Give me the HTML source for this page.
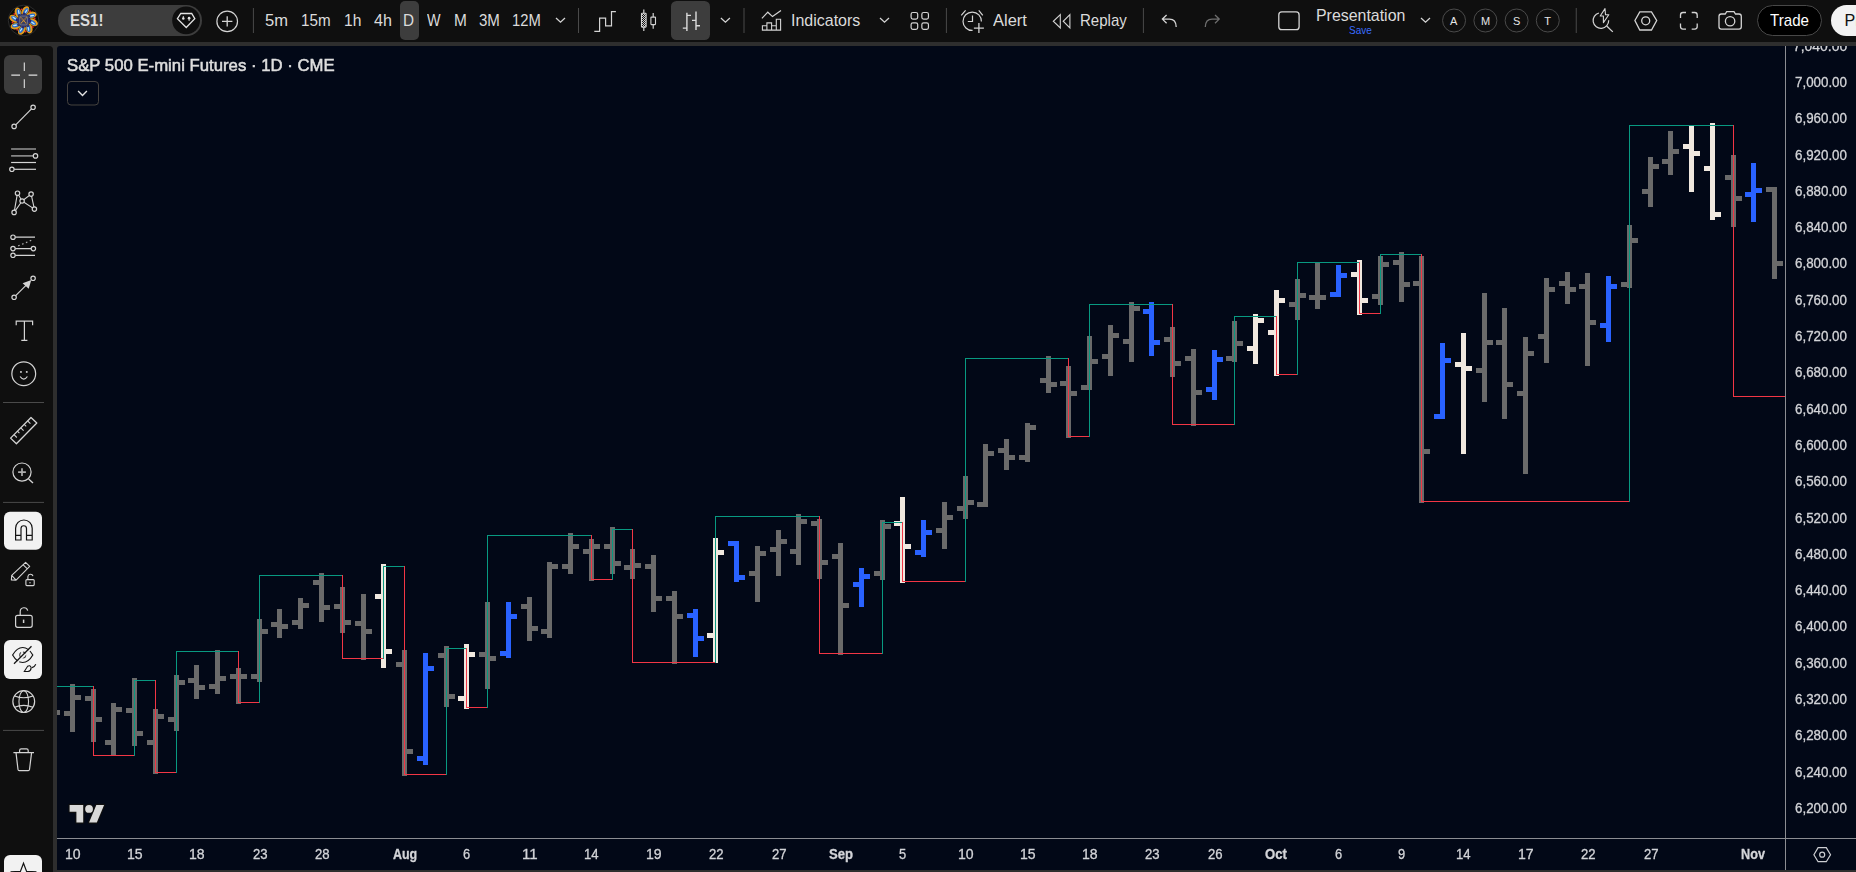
<!DOCTYPE html><html><head><meta charset="utf-8"><title>ES1! chart</title><style>
html,body{margin:0;padding:0}
body{width:1856px;height:872px;overflow:hidden;position:relative;background:#2e2e2e;font-family:"Liberation Sans",sans-serif}
#top{position:absolute;left:0;top:0;width:1856px;height:42px;background:#0f0f0f}
#left{position:absolute;left:0;top:46px;width:53px;height:826px;background:#0f0f0f;border-top-right-radius:4px}
#chart{position:absolute;left:57px;top:46px;width:1799px;height:824px;background:#020817;border-top-left-radius:3px}
svg.ov{position:absolute;left:0;top:0}
.t{position:absolute;white-space:pre;line-height:normal;margin:0;padding:0;transform-origin:0 0}
#axc{position:absolute;left:0;top:46px;width:1856px;height:824px;overflow:hidden;will-change:transform}
#axc .t{-webkit-text-stroke:0.3px #d3d4d8}
.tt{-webkit-text-stroke:0.55px #dedede !important}
</style></head><body>
<div id="top"></div><div id="left"></div><div id="chart"></div>
<svg class="ov" width="1856" height="872" viewBox="0 0 1856 872" shape-rendering="crispEdges"><rect x="57" y="710" width="3" height="5" fill="#6a6a6a"/><rect x="70" y="684" width="5" height="48" fill="#6a6a6a"/><rect x="64" y="711" width="6" height="5" fill="#6a6a6a"/><rect x="75" y="695" width="6" height="5" fill="#6a6a6a"/><rect x="91" y="689" width="5" height="53" fill="#6a6a6a"/><rect x="85" y="696" width="6" height="5" fill="#6a6a6a"/><rect x="96" y="717" width="6" height="5" fill="#6a6a6a"/><rect x="111" y="703" width="5" height="53" fill="#6a6a6a"/><rect x="105" y="740" width="6" height="5" fill="#6a6a6a"/><rect x="116" y="707" width="6" height="5" fill="#6a6a6a"/><rect x="132" y="678" width="5" height="68" fill="#6a6a6a"/><rect x="126" y="708" width="6" height="5" fill="#6a6a6a"/><rect x="137" y="731" width="6" height="5" fill="#6a6a6a"/><rect x="153" y="709" width="5" height="65" fill="#6a6a6a"/><rect x="147" y="740" width="6" height="5" fill="#6a6a6a"/><rect x="158" y="714" width="6" height="5" fill="#6a6a6a"/><rect x="174" y="675" width="5" height="56" fill="#6a6a6a"/><rect x="168" y="717" width="6" height="5" fill="#6a6a6a"/><rect x="179" y="680" width="6" height="5" fill="#6a6a6a"/><rect x="194" y="665" width="5" height="34" fill="#6a6a6a"/><rect x="188" y="678" width="6" height="5" fill="#6a6a6a"/><rect x="199" y="685" width="6" height="5" fill="#6a6a6a"/><rect x="215" y="650" width="5" height="44" fill="#6a6a6a"/><rect x="209" y="684" width="6" height="5" fill="#6a6a6a"/><rect x="220" y="676" width="6" height="5" fill="#6a6a6a"/><rect x="236" y="668" width="5" height="36" fill="#6a6a6a"/><rect x="230" y="674" width="6" height="5" fill="#6a6a6a"/><rect x="241" y="674" width="6" height="5" fill="#6a6a6a"/><rect x="257" y="619" width="5" height="63" fill="#6a6a6a"/><rect x="251" y="674" width="6" height="5" fill="#6a6a6a"/><rect x="262" y="629" width="6" height="5" fill="#6a6a6a"/><rect x="277" y="609" width="5" height="29" fill="#6a6a6a"/><rect x="271" y="622" width="6" height="5" fill="#6a6a6a"/><rect x="282" y="624" width="6" height="5" fill="#6a6a6a"/><rect x="298" y="598" width="5" height="31" fill="#6a6a6a"/><rect x="292" y="620" width="6" height="5" fill="#6a6a6a"/><rect x="303" y="603" width="6" height="5" fill="#6a6a6a"/><rect x="319" y="573" width="5" height="49" fill="#6a6a6a"/><rect x="313" y="580" width="6" height="5" fill="#6a6a6a"/><rect x="324" y="605" width="6" height="5" fill="#6a6a6a"/><rect x="340" y="587" width="5" height="46" fill="#6a6a6a"/><rect x="334" y="604" width="6" height="5" fill="#6a6a6a"/><rect x="345" y="620" width="6" height="5" fill="#6a6a6a"/><rect x="361" y="594" width="5" height="66" fill="#6a6a6a"/><rect x="355" y="621" width="6" height="5" fill="#6a6a6a"/><rect x="366" y="629" width="6" height="5" fill="#6a6a6a"/><rect x="381" y="564" width="5" height="104" fill="#f0e8df"/><rect x="375" y="594" width="6" height="5" fill="#f0e8df"/><rect x="386" y="649" width="6" height="5" fill="#f0e8df"/><rect x="402" y="650" width="5" height="126" fill="#6a6a6a"/><rect x="396" y="662" width="6" height="5" fill="#6a6a6a"/><rect x="407" y="749" width="6" height="5" fill="#6a6a6a"/><rect x="423" y="653" width="5" height="112" fill="#2962ff"/><rect x="417" y="756" width="6" height="5" fill="#2962ff"/><rect x="428" y="666" width="6" height="5" fill="#2962ff"/><rect x="444" y="646" width="5" height="61" fill="#6a6a6a"/><rect x="438" y="653" width="6" height="5" fill="#6a6a6a"/><rect x="449" y="694" width="6" height="5" fill="#6a6a6a"/><rect x="464" y="644" width="5" height="65" fill="#f0e8df"/><rect x="458" y="696" width="6" height="5" fill="#f0e8df"/><rect x="469" y="652" width="6" height="5" fill="#f0e8df"/><rect x="485" y="602" width="5" height="87" fill="#6a6a6a"/><rect x="479" y="652" width="6" height="5" fill="#6a6a6a"/><rect x="490" y="656" width="6" height="5" fill="#6a6a6a"/><rect x="506" y="602" width="5" height="56" fill="#2962ff"/><rect x="500" y="651" width="6" height="5" fill="#2962ff"/><rect x="511" y="614" width="6" height="5" fill="#2962ff"/><rect x="527" y="597" width="5" height="44" fill="#6a6a6a"/><rect x="521" y="604" width="6" height="5" fill="#6a6a6a"/><rect x="532" y="626" width="6" height="5" fill="#6a6a6a"/><rect x="547" y="562" width="5" height="76" fill="#6a6a6a"/><rect x="541" y="629" width="6" height="5" fill="#6a6a6a"/><rect x="552" y="564" width="6" height="5" fill="#6a6a6a"/><rect x="568" y="533" width="5" height="41" fill="#6a6a6a"/><rect x="562" y="564" width="6" height="5" fill="#6a6a6a"/><rect x="573" y="544" width="6" height="5" fill="#6a6a6a"/><rect x="589" y="539" width="5" height="42" fill="#6a6a6a"/><rect x="583" y="549" width="6" height="5" fill="#6a6a6a"/><rect x="594" y="544" width="6" height="5" fill="#6a6a6a"/><rect x="610" y="527" width="5" height="47" fill="#6a6a6a"/><rect x="604" y="544" width="6" height="5" fill="#6a6a6a"/><rect x="615" y="561" width="6" height="5" fill="#6a6a6a"/><rect x="630" y="549" width="5" height="30" fill="#6a6a6a"/><rect x="624" y="565" width="6" height="5" fill="#6a6a6a"/><rect x="635" y="563" width="6" height="5" fill="#6a6a6a"/><rect x="651" y="555" width="5" height="57" fill="#6a6a6a"/><rect x="645" y="564" width="6" height="5" fill="#6a6a6a"/><rect x="656" y="596" width="6" height="5" fill="#6a6a6a"/><rect x="672" y="591" width="5" height="73" fill="#6a6a6a"/><rect x="666" y="596" width="6" height="5" fill="#6a6a6a"/><rect x="677" y="614" width="6" height="5" fill="#6a6a6a"/><rect x="693" y="609" width="5" height="48" fill="#2962ff"/><rect x="687" y="613" width="6" height="5" fill="#2962ff"/><rect x="698" y="636" width="6" height="5" fill="#2962ff"/><rect x="713" y="538" width="5" height="125" fill="#f0e8df"/><rect x="707" y="633" width="6" height="5" fill="#f0e8df"/><rect x="718" y="550" width="6" height="5" fill="#f0e8df"/><rect x="734" y="541" width="5" height="41" fill="#2962ff"/><rect x="728" y="541" width="6" height="5" fill="#2962ff"/><rect x="739" y="575" width="6" height="5" fill="#2962ff"/><rect x="755" y="546" width="5" height="56" fill="#6a6a6a"/><rect x="749" y="571" width="6" height="5" fill="#6a6a6a"/><rect x="760" y="551" width="6" height="5" fill="#6a6a6a"/><rect x="776" y="530" width="5" height="46" fill="#6a6a6a"/><rect x="770" y="547" width="6" height="5" fill="#6a6a6a"/><rect x="781" y="539" width="6" height="5" fill="#6a6a6a"/><rect x="796" y="514" width="5" height="51" fill="#6a6a6a"/><rect x="790" y="549" width="6" height="5" fill="#6a6a6a"/><rect x="801" y="519" width="6" height="5" fill="#6a6a6a"/><rect x="817" y="519" width="5" height="60" fill="#6a6a6a"/><rect x="811" y="521" width="6" height="5" fill="#6a6a6a"/><rect x="822" y="560" width="6" height="5" fill="#6a6a6a"/><rect x="838" y="543" width="5" height="112" fill="#6a6a6a"/><rect x="832" y="554" width="6" height="5" fill="#6a6a6a"/><rect x="843" y="603" width="6" height="5" fill="#6a6a6a"/><rect x="859" y="568" width="5" height="39" fill="#2962ff"/><rect x="853" y="582" width="6" height="5" fill="#2962ff"/><rect x="864" y="574" width="6" height="5" fill="#2962ff"/><rect x="880" y="520" width="5" height="60" fill="#6a6a6a"/><rect x="874" y="571" width="6" height="5" fill="#6a6a6a"/><rect x="885" y="524" width="6" height="5" fill="#6a6a6a"/><rect x="900" y="497" width="5" height="86" fill="#f0e8df"/><rect x="894" y="521" width="6" height="5" fill="#f0e8df"/><rect x="905" y="544" width="6" height="5" fill="#f0e8df"/><rect x="921" y="520" width="5" height="37" fill="#2962ff"/><rect x="915" y="550" width="6" height="5" fill="#2962ff"/><rect x="926" y="530" width="6" height="5" fill="#2962ff"/><rect x="942" y="502" width="5" height="47" fill="#6a6a6a"/><rect x="936" y="528" width="6" height="5" fill="#6a6a6a"/><rect x="947" y="515" width="6" height="5" fill="#6a6a6a"/><rect x="963" y="476" width="5" height="43" fill="#6a6a6a"/><rect x="957" y="506" width="6" height="5" fill="#6a6a6a"/><rect x="968" y="500" width="6" height="5" fill="#6a6a6a"/><rect x="983" y="444" width="5" height="63" fill="#6a6a6a"/><rect x="977" y="502" width="6" height="5" fill="#6a6a6a"/><rect x="988" y="451" width="6" height="5" fill="#6a6a6a"/><rect x="1004" y="439" width="5" height="31" fill="#6a6a6a"/><rect x="998" y="448" width="6" height="5" fill="#6a6a6a"/><rect x="1009" y="455" width="6" height="5" fill="#6a6a6a"/><rect x="1025" y="423" width="5" height="39" fill="#6a6a6a"/><rect x="1019" y="455" width="6" height="5" fill="#6a6a6a"/><rect x="1030" y="425" width="6" height="5" fill="#6a6a6a"/><rect x="1046" y="356" width="5" height="37" fill="#6a6a6a"/><rect x="1040" y="378" width="6" height="5" fill="#6a6a6a"/><rect x="1051" y="382" width="6" height="5" fill="#6a6a6a"/><rect x="1066" y="366" width="5" height="72" fill="#6a6a6a"/><rect x="1060" y="381" width="6" height="5" fill="#6a6a6a"/><rect x="1071" y="391" width="6" height="5" fill="#6a6a6a"/><rect x="1087" y="336" width="5" height="54" fill="#6a6a6a"/><rect x="1081" y="385" width="6" height="5" fill="#6a6a6a"/><rect x="1092" y="359" width="6" height="5" fill="#6a6a6a"/><rect x="1108" y="325" width="5" height="51" fill="#6a6a6a"/><rect x="1102" y="354" width="6" height="5" fill="#6a6a6a"/><rect x="1113" y="333" width="6" height="5" fill="#6a6a6a"/><rect x="1129" y="302" width="5" height="60" fill="#6a6a6a"/><rect x="1123" y="339" width="6" height="5" fill="#6a6a6a"/><rect x="1134" y="306" width="6" height="5" fill="#6a6a6a"/><rect x="1149" y="302" width="5" height="54" fill="#2962ff"/><rect x="1143" y="309" width="6" height="5" fill="#2962ff"/><rect x="1154" y="340" width="6" height="5" fill="#2962ff"/><rect x="1170" y="327" width="5" height="50" fill="#6a6a6a"/><rect x="1164" y="337" width="6" height="5" fill="#6a6a6a"/><rect x="1175" y="361" width="6" height="5" fill="#6a6a6a"/><rect x="1191" y="349" width="5" height="77" fill="#6a6a6a"/><rect x="1185" y="356" width="6" height="5" fill="#6a6a6a"/><rect x="1196" y="390" width="6" height="5" fill="#6a6a6a"/><rect x="1212" y="350" width="5" height="50" fill="#2962ff"/><rect x="1206" y="387" width="6" height="5" fill="#2962ff"/><rect x="1217" y="357" width="6" height="5" fill="#2962ff"/><rect x="1232" y="321" width="5" height="41" fill="#6a6a6a"/><rect x="1226" y="356" width="6" height="5" fill="#6a6a6a"/><rect x="1237" y="341" width="6" height="5" fill="#6a6a6a"/><rect x="1253" y="314" width="5" height="50" fill="#f0e8df"/><rect x="1247" y="346" width="6" height="5" fill="#f0e8df"/><rect x="1258" y="318" width="6" height="5" fill="#f0e8df"/><rect x="1274" y="290" width="5" height="86" fill="#f0e8df"/><rect x="1268" y="330" width="6" height="5" fill="#f0e8df"/><rect x="1279" y="298" width="6" height="5" fill="#f0e8df"/><rect x="1295" y="279" width="5" height="41" fill="#6a6a6a"/><rect x="1289" y="302" width="6" height="5" fill="#6a6a6a"/><rect x="1300" y="293" width="6" height="5" fill="#6a6a6a"/><rect x="1315" y="262" width="5" height="47" fill="#6a6a6a"/><rect x="1309" y="295" width="6" height="5" fill="#6a6a6a"/><rect x="1320" y="295" width="6" height="5" fill="#6a6a6a"/><rect x="1336" y="265" width="5" height="32" fill="#2962ff"/><rect x="1330" y="292" width="6" height="5" fill="#2962ff"/><rect x="1341" y="273" width="6" height="5" fill="#2962ff"/><rect x="1357" y="260" width="5" height="55" fill="#f0e8df"/><rect x="1351" y="272" width="6" height="5" fill="#f0e8df"/><rect x="1362" y="298" width="6" height="5" fill="#f0e8df"/><rect x="1378" y="256" width="5" height="49" fill="#6a6a6a"/><rect x="1372" y="294" width="6" height="5" fill="#6a6a6a"/><rect x="1383" y="262" width="6" height="5" fill="#6a6a6a"/><rect x="1399" y="252" width="5" height="50" fill="#6a6a6a"/><rect x="1393" y="260" width="6" height="5" fill="#6a6a6a"/><rect x="1404" y="282" width="6" height="5" fill="#6a6a6a"/><rect x="1419" y="256" width="5" height="247" fill="#6a6a6a"/><rect x="1413" y="281" width="6" height="5" fill="#6a6a6a"/><rect x="1424" y="449" width="6" height="5" fill="#6a6a6a"/><rect x="1440" y="343" width="5" height="76" fill="#2962ff"/><rect x="1434" y="414" width="6" height="5" fill="#2962ff"/><rect x="1445" y="358" width="6" height="5" fill="#2962ff"/><rect x="1461" y="333" width="5" height="121" fill="#f0e8df"/><rect x="1455" y="362" width="6" height="5" fill="#f0e8df"/><rect x="1466" y="366" width="6" height="5" fill="#f0e8df"/><rect x="1482" y="293" width="5" height="109" fill="#6a6a6a"/><rect x="1476" y="368" width="6" height="5" fill="#6a6a6a"/><rect x="1487" y="340" width="6" height="5" fill="#6a6a6a"/><rect x="1502" y="308" width="5" height="111" fill="#6a6a6a"/><rect x="1496" y="340" width="6" height="5" fill="#6a6a6a"/><rect x="1507" y="382" width="6" height="5" fill="#6a6a6a"/><rect x="1523" y="337" width="5" height="137" fill="#6a6a6a"/><rect x="1517" y="391" width="6" height="5" fill="#6a6a6a"/><rect x="1528" y="351" width="6" height="5" fill="#6a6a6a"/><rect x="1544" y="278" width="5" height="85" fill="#6a6a6a"/><rect x="1538" y="334" width="6" height="5" fill="#6a6a6a"/><rect x="1549" y="287" width="6" height="5" fill="#6a6a6a"/><rect x="1565" y="272" width="5" height="32" fill="#6a6a6a"/><rect x="1559" y="281" width="6" height="5" fill="#6a6a6a"/><rect x="1570" y="287" width="6" height="5" fill="#6a6a6a"/><rect x="1585" y="273" width="5" height="93" fill="#6a6a6a"/><rect x="1579" y="284" width="6" height="5" fill="#6a6a6a"/><rect x="1590" y="320" width="6" height="5" fill="#6a6a6a"/><rect x="1606" y="276" width="5" height="66" fill="#2962ff"/><rect x="1600" y="323" width="6" height="5" fill="#2962ff"/><rect x="1611" y="284" width="6" height="5" fill="#2962ff"/><rect x="1627" y="225" width="5" height="63" fill="#6a6a6a"/><rect x="1621" y="282" width="6" height="5" fill="#6a6a6a"/><rect x="1632" y="238" width="6" height="5" fill="#6a6a6a"/><rect x="1648" y="157" width="5" height="50" fill="#6a6a6a"/><rect x="1642" y="189" width="6" height="5" fill="#6a6a6a"/><rect x="1653" y="164" width="6" height="5" fill="#6a6a6a"/><rect x="1668" y="131" width="5" height="44" fill="#6a6a6a"/><rect x="1662" y="159" width="6" height="5" fill="#6a6a6a"/><rect x="1673" y="149" width="6" height="5" fill="#6a6a6a"/><rect x="1689" y="125" width="5" height="67" fill="#f0e8df"/><rect x="1683" y="144" width="6" height="5" fill="#f0e8df"/><rect x="1694" y="151" width="6" height="5" fill="#f0e8df"/><rect x="1710" y="123" width="5" height="97" fill="#f0e8df"/><rect x="1704" y="166" width="6" height="5" fill="#f0e8df"/><rect x="1715" y="212" width="6" height="5" fill="#f0e8df"/><rect x="1731" y="155" width="5" height="72" fill="#6a6a6a"/><rect x="1725" y="175" width="6" height="5" fill="#6a6a6a"/><rect x="1736" y="196" width="6" height="5" fill="#6a6a6a"/><rect x="1751" y="163" width="5" height="59" fill="#2962ff"/><rect x="1745" y="192" width="6" height="5" fill="#2962ff"/><rect x="1756" y="188" width="6" height="5" fill="#2962ff"/><rect x="1772" y="187" width="5" height="92" fill="#6a6a6a"/><rect x="1766" y="187" width="6" height="5" fill="#6a6a6a"/><rect x="1777" y="261" width="6" height="5" fill="#6a6a6a"/><rect x="57" y="686" width="36" height="1" fill="#089981"/><rect x="93" y="686" width="1" height="70" fill="#f23645"/><rect x="93" y="755" width="41" height="1" fill="#f23645"/><rect x="134" y="680" width="1" height="76" fill="#089981"/><rect x="134" y="680" width="21" height="1" fill="#089981"/><rect x="155" y="680" width="1" height="93" fill="#f23645"/><rect x="155" y="772" width="21" height="1" fill="#f23645"/><rect x="176" y="651" width="1" height="122" fill="#089981"/><rect x="176" y="651" width="62" height="1" fill="#089981"/><rect x="238" y="651" width="1" height="52" fill="#f23645"/><rect x="238" y="702" width="21" height="1" fill="#f23645"/><rect x="259" y="575" width="1" height="128" fill="#089981"/><rect x="259" y="575" width="83" height="1" fill="#089981"/><rect x="342" y="575" width="1" height="84" fill="#f23645"/><rect x="342" y="658" width="41" height="1" fill="#f23645"/><rect x="383" y="566" width="1" height="93" fill="#089981"/><rect x="383" y="566" width="21" height="1" fill="#089981"/><rect x="404" y="566" width="1" height="209" fill="#f23645"/><rect x="404" y="774" width="42" height="1" fill="#f23645"/><rect x="446" y="648" width="1" height="127" fill="#089981"/><rect x="446" y="648" width="20" height="1" fill="#089981"/><rect x="466" y="648" width="1" height="60" fill="#f23645"/><rect x="466" y="707" width="21" height="1" fill="#f23645"/><rect x="487" y="535" width="1" height="173" fill="#089981"/><rect x="487" y="535" width="104" height="1" fill="#089981"/><rect x="591" y="535" width="1" height="45" fill="#f23645"/><rect x="591" y="579" width="21" height="1" fill="#f23645"/><rect x="612" y="529" width="1" height="51" fill="#089981"/><rect x="612" y="529" width="20" height="1" fill="#089981"/><rect x="632" y="529" width="1" height="134" fill="#f23645"/><rect x="632" y="662" width="83" height="1" fill="#f23645"/><rect x="715" y="516" width="1" height="147" fill="#089981"/><rect x="715" y="516" width="104" height="1" fill="#089981"/><rect x="819" y="516" width="1" height="138" fill="#f23645"/><rect x="819" y="653" width="63" height="1" fill="#f23645"/><rect x="882" y="522" width="1" height="132" fill="#089981"/><rect x="882" y="522" width="20" height="1" fill="#089981"/><rect x="902" y="522" width="1" height="60" fill="#f23645"/><rect x="902" y="581" width="63" height="1" fill="#f23645"/><rect x="965" y="358" width="1" height="224" fill="#089981"/><rect x="965" y="358" width="103" height="1" fill="#089981"/><rect x="1068" y="358" width="1" height="79" fill="#f23645"/><rect x="1068" y="436" width="21" height="1" fill="#f23645"/><rect x="1089" y="304" width="1" height="133" fill="#089981"/><rect x="1089" y="304" width="83" height="1" fill="#089981"/><rect x="1172" y="304" width="1" height="121" fill="#f23645"/><rect x="1172" y="424" width="62" height="1" fill="#f23645"/><rect x="1234" y="316" width="1" height="109" fill="#089981"/><rect x="1234" y="316" width="42" height="1" fill="#089981"/><rect x="1276" y="316" width="1" height="59" fill="#f23645"/><rect x="1276" y="374" width="21" height="1" fill="#f23645"/><rect x="1297" y="262" width="1" height="113" fill="#089981"/><rect x="1297" y="262" width="62" height="1" fill="#089981"/><rect x="1359" y="262" width="1" height="52" fill="#f23645"/><rect x="1359" y="313" width="21" height="1" fill="#f23645"/><rect x="1380" y="254" width="1" height="60" fill="#089981"/><rect x="1380" y="254" width="41" height="1" fill="#089981"/><rect x="1421" y="254" width="1" height="248" fill="#f23645"/><rect x="1421" y="501" width="208" height="1" fill="#f23645"/><rect x="1629" y="125" width="1" height="377" fill="#089981"/><rect x="1629" y="125" width="104" height="1" fill="#089981"/><rect x="1733" y="125" width="1" height="272" fill="#f23645"/><rect x="1733" y="396" width="52" height="1" fill="#f23645"/><rect x="57" y="838" width="1799" height="1" fill="#8c8d92"/><rect x="1785" y="46" width="1" height="824" fill="#8c8d92"/></svg>
<svg class="ov" width="1856" height="872" viewBox="0 0 1856 872" fill="none" stroke-linecap="butt"><defs><clipPath id="av"><circle cx="23.6" cy="20.5" r="14.9"/></clipPath></defs><circle cx="23.6" cy="20.5" r="15.3" fill="#0a0a0a" stroke="#303030" stroke-width="0.9"/><g clip-path="url(#av)"><g transform="rotate(10 23.6 20.5)"><ellipse cx="23.6" cy="10.7" rx="3.3" ry="5.1" fill="#e39a1c" transform="rotate(24 23.6 10.7)"/><ellipse cx="24.1" cy="11.2" rx="1.9" ry="3.7" fill="#256fd0" transform="rotate(24 24.1 11.2)"/><ellipse cx="24.400000000000002" cy="11.0" rx="0.7" ry="2.5" fill="#bfe3f8" transform="rotate(24 24.400000000000002 11.0)"/><circle cx="23.0" cy="14.1" r="1.5" fill="#27296c"/><circle cx="19.700000000000003" cy="9.9" r="0.9" fill="#e8232b"/></g><g transform="rotate(55 23.6 20.5)"><ellipse cx="23.6" cy="10.7" rx="3.3" ry="5.1" fill="#e39a1c" transform="rotate(24 23.6 10.7)"/><ellipse cx="24.1" cy="11.2" rx="1.9" ry="3.7" fill="#256fd0" transform="rotate(24 24.1 11.2)"/><ellipse cx="24.400000000000002" cy="11.0" rx="0.7" ry="2.5" fill="#bfe3f8" transform="rotate(24 24.400000000000002 11.0)"/><circle cx="23.0" cy="14.1" r="1.5" fill="#27296c"/><circle cx="19.700000000000003" cy="9.9" r="0.9" fill="#e8232b"/></g><g transform="rotate(100 23.6 20.5)"><ellipse cx="23.6" cy="10.7" rx="3.3" ry="5.1" fill="#e39a1c" transform="rotate(24 23.6 10.7)"/><ellipse cx="24.1" cy="11.2" rx="1.9" ry="3.7" fill="#256fd0" transform="rotate(24 24.1 11.2)"/><ellipse cx="24.400000000000002" cy="11.0" rx="0.7" ry="2.5" fill="#bfe3f8" transform="rotate(24 24.400000000000002 11.0)"/><circle cx="23.0" cy="14.1" r="1.5" fill="#27296c"/><circle cx="19.700000000000003" cy="9.9" r="0.9" fill="#e8232b"/></g><g transform="rotate(145 23.6 20.5)"><ellipse cx="23.6" cy="10.7" rx="3.3" ry="5.1" fill="#e39a1c" transform="rotate(24 23.6 10.7)"/><ellipse cx="24.1" cy="11.2" rx="1.9" ry="3.7" fill="#256fd0" transform="rotate(24 24.1 11.2)"/><ellipse cx="24.400000000000002" cy="11.0" rx="0.7" ry="2.5" fill="#bfe3f8" transform="rotate(24 24.400000000000002 11.0)"/><circle cx="23.0" cy="14.1" r="1.5" fill="#27296c"/><circle cx="19.700000000000003" cy="9.9" r="0.9" fill="#e8232b"/></g><g transform="rotate(190 23.6 20.5)"><ellipse cx="23.6" cy="10.7" rx="3.3" ry="5.1" fill="#e39a1c" transform="rotate(24 23.6 10.7)"/><ellipse cx="24.1" cy="11.2" rx="1.9" ry="3.7" fill="#256fd0" transform="rotate(24 24.1 11.2)"/><ellipse cx="24.400000000000002" cy="11.0" rx="0.7" ry="2.5" fill="#bfe3f8" transform="rotate(24 24.400000000000002 11.0)"/><circle cx="23.0" cy="14.1" r="1.5" fill="#27296c"/><circle cx="19.700000000000003" cy="9.9" r="0.9" fill="#e8232b"/></g><g transform="rotate(235 23.6 20.5)"><ellipse cx="23.6" cy="10.7" rx="3.3" ry="5.1" fill="#e39a1c" transform="rotate(24 23.6 10.7)"/><ellipse cx="24.1" cy="11.2" rx="1.9" ry="3.7" fill="#256fd0" transform="rotate(24 24.1 11.2)"/><ellipse cx="24.400000000000002" cy="11.0" rx="0.7" ry="2.5" fill="#bfe3f8" transform="rotate(24 24.400000000000002 11.0)"/><circle cx="23.0" cy="14.1" r="1.5" fill="#27296c"/><circle cx="19.700000000000003" cy="9.9" r="0.9" fill="#e8232b"/></g><g transform="rotate(280 23.6 20.5)"><ellipse cx="23.6" cy="10.7" rx="3.3" ry="5.1" fill="#e39a1c" transform="rotate(24 23.6 10.7)"/><ellipse cx="24.1" cy="11.2" rx="1.9" ry="3.7" fill="#256fd0" transform="rotate(24 24.1 11.2)"/><ellipse cx="24.400000000000002" cy="11.0" rx="0.7" ry="2.5" fill="#bfe3f8" transform="rotate(24 24.400000000000002 11.0)"/><circle cx="23.0" cy="14.1" r="1.5" fill="#27296c"/><circle cx="19.700000000000003" cy="9.9" r="0.9" fill="#e8232b"/></g><g transform="rotate(325 23.6 20.5)"><ellipse cx="23.6" cy="10.7" rx="3.3" ry="5.1" fill="#e39a1c" transform="rotate(24 23.6 10.7)"/><ellipse cx="24.1" cy="11.2" rx="1.9" ry="3.7" fill="#256fd0" transform="rotate(24 24.1 11.2)"/><ellipse cx="24.400000000000002" cy="11.0" rx="0.7" ry="2.5" fill="#bfe3f8" transform="rotate(24 24.400000000000002 11.0)"/><circle cx="23.0" cy="14.1" r="1.5" fill="#27296c"/><circle cx="19.700000000000003" cy="9.9" r="0.9" fill="#e8232b"/></g><rect x="18.0" y="14.5" width="11.2" height="12" rx="3.4" fill="#3b3f63"/><path d="M20.400000000000002,15.3 Q23.6,13.1 26.8,15.3 Z M20.400000000000002,25.7 Q23.6,27.9 26.8,25.7 Z" fill="#2a2c78"/><rect x="17.0" y="18.3" width="2.4" height="4.4" rx="1" fill="#2a2c78"/><rect x="27.8" y="18.3" width="2.4" height="4.4" rx="1" fill="#2a2c78"/><rect x="19.700000000000003" y="16.1" width="7.8" height="8.8" rx="1.6" fill="none" stroke="#8b8d9c" stroke-width="0.6"/><path d="M20.6,17.3 L26.6,23.7 M26.6,17.3 L20.6,23.7" stroke="#e09a2a" stroke-width="1.1" stroke-dasharray="1.1 0.6"/></g><rect x="58" y="5" width="144" height="31" rx="15.5" fill="#3d3d3d" stroke="none" stroke-width="1.2" /><circle cx="186.1" cy="20.4" r="13.9" fill="#0f0f0f"/><path d="M180.8,13.5 H191.7 L194.8,18.75 L186.25,27.5 L177.4,18.75 Z" stroke="#e4e4e4" stroke-width="1.3" fill="none" /><circle cx="183.3" cy="18.6" r="1.25" fill="#e4e4e4"/><circle cx="189.1" cy="18.2" r="1.35" fill="#e4e4e4"/><path d="M183.3,16 V18 M189.1,19 V21" stroke="#e4e4e4" stroke-width="0.9" fill="none" /><circle cx="227.2" cy="21.4" r="10.3" stroke="#d4d4d4" stroke-width="1.2" fill="none" /><path d="M222,21.4 H232.4 M227.2,16.2 V26.6" stroke="#d4d4d4" stroke-width="1.3" fill="none" /><rect x="252.9" y="8" width="1" height="25" fill="#4a4a4a"/><rect x="578.0" y="8" width="1" height="25" fill="#4a4a4a"/><rect x="743.5" y="8" width="1" height="25" fill="#4a4a4a"/><rect x="945.9" y="8" width="1" height="25" fill="#4a4a4a"/><rect x="1142.9" y="8" width="1" height="25" fill="#4a4a4a"/><rect x="1575.75" y="8" width="1" height="25" fill="#4a4a4a"/><rect x="400" y="1" width="19" height="39" rx="5" fill="#3d3d3d" stroke="none" stroke-width="1.2" /><path d="M556.0,18.05 L560.5,22.150000000000002 L565.0,18.05" stroke="#d4d4d4" stroke-width="1.3" fill="none" /><path d="M720.9,18.05 L725.4,22.150000000000002 L729.9,18.05" stroke="#d4d4d4" stroke-width="1.3" fill="none" /><path d="M880.0,18.05 L884.5,22.150000000000002 L889.0,18.05" stroke="#d4d4d4" stroke-width="1.3" fill="none" /><path d="M1421.0,18.05 L1425.5,22.150000000000002 L1430.0,18.05" stroke="#d4d4d4" stroke-width="1.3" fill="none" /><path d="M594.3,31.4 H599.6 V18.1 H605.6 V25.9 H611.5 V11.6 H615.9" stroke="#d4d4d4" stroke-width="1.2" fill="none" /><defs><pattern id="ht" width="2" height="2" patternUnits="userSpaceOnUse"><rect width="1" height="1" fill="#cfcfcf"/><rect x="1" y="1" width="1" height="1" fill="#cfcfcf"/></pattern></defs><rect x="641.5" y="13.3" width="4.6" height="13.8" rx="0.5" fill="url(#ht)" stroke="#d4d4d4" stroke-width="1.1" /><path d="M643.8,9.4 V13.3 M643.8,27.1 V31" stroke="#d4d4d4" stroke-width="1.2" fill="none" /><rect x="650.9" y="17.1" width="4.6" height="7.5" rx="0.5" fill="none" stroke="#d4d4d4" stroke-width="1.1" /><path d="M653.2,13 V17.1 M653.2,24.6 V28.75" stroke="#d4d4d4" stroke-width="1.2" fill="none" /><rect x="671" y="1" width="39" height="39" rx="5.5" fill="#3d3d3d" stroke="none" stroke-width="1.2" /><path d="M686.9,12.8 V30.9 M687.5,15.4 H691 M682.8,28.1 H686.3 M696,11.6 V30 M692,20.4 H695.4 M696.6,25.8 H700" stroke="#dcdcdc" stroke-width="1.4" fill="none" /><path d="M761.9,18.4 L767.8,12.2 L772.5,16.6 L781,10.5" stroke="#d4d4d4" stroke-width="1.2" fill="none" /><path d="M762.4,30.1 V25.8 H766.9 V22.9 H771.6 V25.8 H776.3 V19.2 H780.6 V30.1 Z M766.9,25.8 V30.1 M771.6,25.8 V30.1 M776.3,25.8 V30.1" stroke="#d4d4d4" stroke-width="1.1" fill="none" /><rect x="911.1" y="12.5" width="6.6" height="6.6" rx="1.8" fill="none" stroke="#d4d4d4" stroke-width="1.2" /><rect x="921.85" y="12.5" width="6.6" height="6.6" rx="1.8" fill="none" stroke="#d4d4d4" stroke-width="1.2" /><rect x="911.1" y="22.8" width="6.6" height="6.6" rx="1.8" fill="none" stroke="#d4d4d4" stroke-width="1.2" /><rect x="921.85" y="22.8" width="6.6" height="6.6" rx="1.8" fill="none" stroke="#d4d4d4" stroke-width="1.2" /><path d="M981.4,21.6 A9.2,9.2 0 1 0 972.6,30.45" stroke="#d4d4d4" stroke-width="1.2" fill="none" /><path d="M973.9,28.1 H983.9 M978.9,23.1 V33.1" stroke="#d4d4d4" stroke-width="1.3" fill="none" /><path d="M972.5,15.6 V21.5 H967.8" stroke="#d4d4d4" stroke-width="1.2" fill="none" /><path d="M961.25,15.3 L965.6,10.3 M978.75,10.3 L982.8,15.3" stroke="#d4d4d4" stroke-width="1.2" fill="none" /><path d="M1060.3,14.6 L1053.3,21.25 L1060.3,27.9 Z M1069.9,14.6 L1063.2,21.25 L1069.9,27.9 Z" stroke="#d4d4d4" stroke-width="1.1" fill="none" /><path d="M1166.6,15 L1162.4,19.1 L1166.6,23.2 M1162.6,19.1 H1169.5 Q1176,19.1 1176.2,26.9" stroke="#d4d4d4" stroke-width="1.3" fill="none" /><path d="M1215,15 L1219.2,19.1 L1215,23.2 M1219,19.1 H1212 Q1205.5,19.1 1205.3,26.9" stroke="#6f6f6f" stroke-width="1.3" fill="none" /><rect x="1278.8" y="11.9" width="20.3" height="17.8" rx="3" fill="none" stroke="#d4d4d4" stroke-width="1.3" /><circle cx="1454.06" cy="20.5" r="11.5" stroke="#4a4a4a" stroke-width="1" fill="none" /><circle cx="1485.4" cy="20.5" r="11.5" stroke="#4a4a4a" stroke-width="1" fill="none" /><circle cx="1516.6" cy="20.5" r="11.5" stroke="#4a4a4a" stroke-width="1" fill="none" /><circle cx="1547.8" cy="20.5" r="11.5" stroke="#4a4a4a" stroke-width="1" fill="none" /><path d="M1598.9,13 A7.8,7.8 0 1 0 1608.7,20.3" stroke="#d4d4d4" stroke-width="1.2" fill="none" /><path d="M1606.7,26 L1612.8,31.9" stroke="#d4d4d4" stroke-width="1.3" fill="none" /><path d="M1605,8.6 L1600.2,16 H1603.4 V22.6 L1608.8,14.7 H1605.5 Z" stroke="#d4d4d4" stroke-width="1.1" fill="#0f0f0f" stroke-linejoin="round"/><path d="M1634.9,20.5 L1639.8,11.85 H1651.5 L1656.7,20.5 L1651.5,30 H1639.8 Z" stroke="#d4d4d4" stroke-width="1.3" fill="none" /><circle cx="1645.7" cy="20.8" r="4" stroke="#d4d4d4" stroke-width="1.3" fill="none" /><path d="M1680.5,18 V15 Q1680.5,12.5 1683,12.5 H1686 M1691.7,12.5 H1694.7 Q1697.2,12.5 1697.2,15 V18 M1697.2,23.6 V26.6 Q1697.2,29.1 1694.7,29.1 H1691.7 M1686,29.1 H1683 Q1680.5,29.1 1680.5,26.6 V23.6" stroke="#d4d4d4" stroke-width="1.3" fill="none" /><path d="M1721.3,14 H1725.2 L1726.7,11.7 H1734 L1735.5,14 H1739 Q1741.3,14 1741.3,16.3 V26.8 Q1741.3,29.1 1739,29.1 H1721.3 Q1719,29.1 1719,26.8 V16.3 Q1719,14 1721.3,14 Z" stroke="#d4d4d4" stroke-width="1.3" fill="none" /><circle cx="1730.1" cy="21.25" r="4.7" stroke="#d4d4d4" stroke-width="1.3" fill="none" /><rect x="1757.5" y="5.5" width="64" height="30" rx="15" fill="#000" stroke="#484848" stroke-width="1" /><rect x="1831" y="5" width="60" height="31" rx="15.5" fill="#f2f2f2" stroke="none" stroke-width="1.2" /><rect x="4" y="55" width="38" height="39" rx="6" fill="#3d3d3d" stroke="none" stroke-width="1.2" /><path d="M24.3,62.4 V71 M24.3,79.2 V88 M11.3,75.1 H20 M28.6,75.1 H37.3" stroke="#e0e0e0" stroke-width="1.1" fill="none" /><path d="M31.5,108.9 L15.7,124.8" stroke="#d4d4d4" stroke-width="1.2" fill="none" /><circle cx="33.1" cy="107.3" r="2.2" stroke="#d4d4d4" stroke-width="1.2" fill="none" /><circle cx="14.1" cy="126.4" r="2.2" stroke="#d4d4d4" stroke-width="1.2" fill="none" /><path d="M11.1,149 H36" stroke="#d4d4d4" stroke-width="1.7" fill="none" opacity="0.6"/><path d="M11.1,155.9 H33.2" stroke="#d4d4d4" stroke-width="1.4" fill="none" opacity="0.75"/><circle cx="35.5" cy="155.9" r="2.2" stroke="#d4d4d4" stroke-width="1.2" fill="none" /><path d="M11.1,162.5 H36" stroke="#d4d4d4" stroke-width="1.2" fill="none" /><path d="M14.2,169.3 H36" stroke="#d4d4d4" stroke-width="1.2" fill="none" /><circle cx="11.9" cy="169.3" r="2.2" stroke="#d4d4d4" stroke-width="1.2" fill="none" /><path d="M17.5,193.2 L22.1,201 M17.5,193.2 L14.1,212.4 M14.1,212.4 L22.1,201 M22.1,201 L31.1,194.1 M31.1,194.1 L34.4,209.1 M22.1,201 L34.4,209.1 " stroke="#d4d4d4" stroke-width="1.1" fill="none" /><circle cx="17.5" cy="193.2" r="2.2" stroke="#d4d4d4" stroke-width="1.2" fill="#0f0f0f" /><circle cx="31.1" cy="194.1" r="2.2" stroke="#d4d4d4" stroke-width="1.2" fill="#0f0f0f" /><circle cx="22.1" cy="201" r="2.2" stroke="#d4d4d4" stroke-width="1.2" fill="#0f0f0f" /><circle cx="34.4" cy="209.1" r="2.2" stroke="#d4d4d4" stroke-width="1.2" fill="#0f0f0f" /><circle cx="14.1" cy="212.4" r="2.2" stroke="#d4d4d4" stroke-width="1.2" fill="#0f0f0f" /><path d="M15.3,237.2 H35 M15.3,248.6 H31.2 M15.3,255.3 H35" stroke="#d4d4d4" stroke-width="1.2" fill="none" /><circle cx="13" cy="237.2" r="2.2" stroke="#d4d4d4" stroke-width="1.2" fill="none" /><circle cx="13" cy="248.6" r="2.2" stroke="#d4d4d4" stroke-width="1.2" fill="none" /><circle cx="33.4" cy="248.6" r="2.2" stroke="#d4d4d4" stroke-width="1.2" fill="none" /><circle cx="13" cy="255.3" r="2.2" stroke="#d4d4d4" stroke-width="1.2" fill="none" /><path d="M18.2,245.9 L32.6,239.7" stroke="#d4d4d4" stroke-width="1.2" fill="none" stroke-dasharray="1.6 2.6" opacity="0.8"/><path d="M15.7,295.7 L27,284.4" stroke="#d4d4d4" stroke-width="1.2" fill="none" /><circle cx="33.1" cy="278.3" r="2.2" stroke="#d4d4d4" stroke-width="1.2" fill="none" /><circle cx="14.1" cy="297.3" r="2.2" stroke="#d4d4d4" stroke-width="1.2" fill="none" /><path d="M31.3,279.9 L22.6,283.2 L28.7,288.8 Z" fill="#d4d4d4"/><path d="M16.2,325.2 V321.2 H32.6 V325.2 M24.4,321.2 V340.4 M21.3,340.4 H27.4" stroke="#d4d4d4" stroke-width="1.2" fill="none" /><circle cx="23.75" cy="373.7" r="11.9" stroke="#d4d4d4" stroke-width="1.2" fill="none" /><rect x="20.1" y="371.1" width="1.7" height="1.7" fill="#d4d4d4"/><rect x="25.9" y="371.1" width="1.7" height="1.7" fill="#d4d4d4"/><path d="M20.1,376.5 Q23.75,381.8 27.4,376.5" stroke="#d4d4d4" stroke-width="1.2" fill="none" /><rect x="3" y="402.0" width="41" height="1" fill="#4a4a4a"/><rect x="3" y="501.9" width="41" height="1" fill="#4a4a4a"/><rect x="3" y="729.9" width="41" height="1" fill="#4a4a4a"/><path d="M31,417.5 L36.8,423 L16.4,443.7 L10.6,438.1 Z" stroke="#d4d4d4" stroke-width="1.3" fill="none" stroke-linejoin="round"/><path d="M14.0,434.7 l2.8,2.8 M17.4,431.2 l2.0,2.0 M20.8,427.8 l2.8,2.8 M24.2,424.4 l2.0,2.0 M27.6,420.9 l2.8,2.8 " stroke="#d4d4d4" stroke-width="1.1" fill="none" /><circle cx="22" cy="472.1" r="9.1" stroke="#d4d4d4" stroke-width="1.2" fill="none" /><path d="M28.6,478.9 L33,483" stroke="#d4d4d4" stroke-width="1.3" fill="none" /><path d="M18.1,472.1 H25.9 M22,468.2 V476" stroke="#d4d4d4" stroke-width="1.7" fill="none" opacity="0.8"/><rect x="4" y="511.8" width="38" height="38" rx="6" fill="#f2f2f2" stroke="none" stroke-width="1.2" /><path d="M15.6,540 V528.3 A8.3,8.3 0 0 1 32.2,528.3 V540 H26.5 V528.5 A2.75,2.75 0 0 0 21,528.5 V540 Z M15.6,535.3 H21 M26.5,535.3 H32.2" stroke="#131313" stroke-width="1.2" fill="none" /><path d="M25.6,562.4 L29.7,566.3 L16.1,580.1 L11.4,579.9 L11.7,575.4 Z M23.2,564.8 L27.4,568.8 M11.7,575.4 L16.1,580.1" stroke="#d4d4d4" stroke-width="1.1" fill="none" stroke-linejoin="round"/><rect x="25.9" y="579.6" width="8.3" height="6" rx="1" fill="none" stroke="#d4d4d4" stroke-width="1.1" /><path d="M27.9,579.6 V576.6 A2.6,2.6 0 0 1 33,576.2" stroke="#d4d4d4" stroke-width="1.1" fill="none" /><circle cx="30" cy="582.8" r="0.7" fill="#d4d4d4"/><rect x="15.6" y="615.3" width="16.6" height="12" rx="2" fill="none" stroke="#d4d4d4" stroke-width="1.2" /><path d="M20.2,615.3 V611.4 A3.8,3.8 0 0 1 27.7,610.7" stroke="#d4d4d4" stroke-width="1.2" fill="none" /><path d="M23.6,619.6 V623" stroke="#d4d4d4" stroke-width="1.5" fill="none" /><rect x="4" y="640" width="38" height="39" rx="6" fill="#f2f2f2" stroke="none" stroke-width="1.2" /><path d="M12.6,655 Q17,647.5 22.7,647.5 Q28.5,647.5 32.8,655 Q28.5,662.5 22.7,662.5 Q17,662.5 12.6,655 Z" stroke="#131313" stroke-width="1.2" fill="none" /><circle cx="22.7" cy="655" r="3" stroke="#131313" stroke-width="1.1" fill="none" stroke-dasharray="5 2" opacity="0.8"/><path d="M32.6,647.3 L15.1,664.8" stroke="#f2f2f2" stroke-width="1.6" fill="none" /><path d="M31.5,646.2 L14,663.7" stroke="#131313" stroke-width="1.3" fill="none" /><path d="M24.3,671.5 L27.6,666.3 Q30,664.6 31.2,667.6 Q31,671 28,671.5 Z M32,667.6 Q34.6,667 35.8,664.3" stroke="#131313" stroke-width="1.1" fill="none" /><circle cx="23.75" cy="701.6" r="10.9" stroke="#d4d4d4" stroke-width="1.2" fill="none" /><ellipse cx="23.75" cy="701.6" rx="4.8" ry="10.9" stroke="#d4d4d4" stroke-width="1.1" fill="none"/><path d="M14.6,696 Q23.75,699.6 32.9,696 M14.6,707.2 Q23.75,703.6 32.9,707.2" stroke="#d4d4d4" stroke-width="1.1" fill="none" /><path d="M13.4,752.6 H34 M19.6,752.6 V750.5 Q19.6,748.9 21.2,748.9 H26.6 Q28.2,748.9 28.2,750.5 V752.6 M16,752.6 L18,769.5 Q18.1,770.6 19.3,770.6 H28.2 Q29.3,770.6 29.5,769.5 L31.6,752.6" stroke="#d4d4d4" stroke-width="1.2" fill="none" /><rect x="4" y="855" width="38" height="38" rx="6" fill="#f2f2f2" stroke="none" stroke-width="1.2" /><polygon points="23.5,863.2 26.6,871.4 35.3,871.8 28.4,877.2 30.8,885.6 23.5,880.8 16.2,885.6 18.6,877.2 11.7,871.8 20.4,871.4" fill="none" stroke="#131313" stroke-width="1.2"/><rect x="67.5" y="81.5" width="31" height="23.5" rx="3.5" fill="none" stroke="#45423f" stroke-width="1" /><path d="M78.1,91.1 L82.5,95.4 L86.9,91.1" stroke="#e2e2e2" stroke-width="1.4" fill="none" /><g transform="translate(69.6,801.1) scale(0.972)" fill="#d9d9d9" stroke="#0f0f0f" stroke-width="2.4" paint-order="stroke" stroke-linejoin="round"><path d="M14 22H7V11H0V4h14v18z"/><path d="M28 22h-8l7.5-18h8L28 22z"/><circle cx="20" cy="8" r="4"/></g><path d="M1813.9,854.7 L1818.1,847.7 H1826.3 L1830.5,854.7 L1826.3,861.7 H1818.1 Z" stroke="#cdced2" stroke-width="1.2" fill="none" /><circle cx="1822.2" cy="854.7" r="2.5" stroke="#cdced2" stroke-width="1.2" fill="none" /></svg>
<span class="t" style="left:70.3px;top:12px;font-size:15.8px;color:#dbdbdb;font-weight:700;transform:scaleX(0.9511);">ES1!</span>
<span class="t" style="left:265.05px;top:10.6px;font-size:16.1px;color:#dbdbdb;transform:scaleX(1.0286);">5m</span>
<span class="t" style="left:300.81px;top:10.6px;font-size:16.1px;color:#dbdbdb;transform:scaleX(0.9448);">15m</span>
<span class="t" style="left:343.53px;top:10.6px;font-size:16.1px;color:#dbdbdb;transform:scaleX(0.9718);">1h</span>
<span class="t" style="left:373.75px;top:10.6px;font-size:16.1px;color:#dbdbdb;transform:scaleX(1.0029);">4h</span>
<span class="t" style="left:403.3px;top:10.6px;font-size:16.1px;color:#dbdbdb;transform:scaleX(0.95);">D</span>
<span class="t" style="left:427.0px;top:10.6px;font-size:16.1px;color:#dbdbdb;transform:scaleX(0.8906);">W</span>
<span class="t" style="left:453.54px;top:10.6px;font-size:16.1px;color:#dbdbdb;transform:scaleX(0.9583);">M</span>
<span class="t" style="left:479.25px;top:10.6px;font-size:16.1px;color:#dbdbdb;transform:scaleX(0.9352);">3M</span>
<span class="t" style="left:511.58px;top:10.6px;font-size:16.1px;color:#dbdbdb;transform:scaleX(0.9197);">12M</span>
<span class="t" style="left:791.01px;top:10.6px;font-size:16.1px;color:#dbdbdb;transform:scaleX(0.9938);">Indicators</span>
<span class="t" style="left:993.1px;top:10.6px;font-size:16.1px;color:#dbdbdb;transform:scaleX(1.0232);">Alert</span>
<span class="t" style="left:1080.33px;top:10.6px;font-size:16.1px;color:#dbdbdb;transform:scaleX(0.9346);">Replay</span>
<span class="t" style="left:1315.9px;top:5.9px;font-size:16.1px;color:#dbdbdb;transform:scaleX(0.9888);">Presentation</span>
<span class="t" style="left:1348.75px;top:24px;font-size:11.3px;color:#3a6dff;transform:scaleX(0.8835);">Save</span>
<span class="t" style="left:1450.06px;top:15px;font-size:11px;color:#e6e6e6;">A</span>
<span class="t" style="left:1480.9px;top:15px;font-size:11px;color:#e6e6e6;">M</span>
<span class="t" style="left:1513.1px;top:15px;font-size:11px;color:#e6e6e6;">S</span>
<span class="t" style="left:1544.3px;top:15px;font-size:11px;color:#e6e6e6;">T</span>
<span class="t" style="left:1770.0px;top:11.2px;font-size:16.1px;color:#ffffff;transform:scaleX(0.9399);">Trade</span>
<span class="t" style="left:1844.4px;top:11.2px;font-size:16.1px;color:#0f0f0f;">Pr</span>
<div id="axc">
<span class="t tt" style="left:67.4px;top:10.25px;font-size:17.0px;color:#dedede;transform:scaleX(0.9848);">S&amp;P 500 E-mini Futures · 1D · CME</span>
<span class="t" style="left:1793.4px;top:-8.4px;font-size:13.9px;color:#d3d4d8;transform:scaleX(1.0028);">7,040.00</span>
<span class="t" style="left:1795.0px;top:27.9px;font-size:13.9px;color:#d3d4d8;transform:scaleX(0.9605);">7,000.00</span>
<span class="t" style="left:1795.0px;top:64.2px;font-size:13.9px;color:#d3d4d8;transform:scaleX(0.9605);">6,960.00</span>
<span class="t" style="left:1795.0px;top:100.5px;font-size:13.9px;color:#d3d4d8;transform:scaleX(0.9605);">6,920.00</span>
<span class="t" style="left:1795.0px;top:136.8px;font-size:13.9px;color:#d3d4d8;transform:scaleX(0.9605);">6,880.00</span>
<span class="t" style="left:1795.0px;top:173.1px;font-size:13.9px;color:#d3d4d8;transform:scaleX(0.9605);">6,840.00</span>
<span class="t" style="left:1795.0px;top:209.4px;font-size:13.9px;color:#d3d4d8;transform:scaleX(0.9605);">6,800.00</span>
<span class="t" style="left:1795.0px;top:245.7px;font-size:13.9px;color:#d3d4d8;transform:scaleX(0.9605);">6,760.00</span>
<span class="t" style="left:1795.0px;top:282.0px;font-size:13.9px;color:#d3d4d8;transform:scaleX(0.9605);">6,720.00</span>
<span class="t" style="left:1795.0px;top:318.3px;font-size:13.9px;color:#d3d4d8;transform:scaleX(0.9605);">6,680.00</span>
<span class="t" style="left:1795.0px;top:354.6px;font-size:13.9px;color:#d3d4d8;transform:scaleX(0.9605);">6,640.00</span>
<span class="t" style="left:1795.0px;top:390.9px;font-size:13.9px;color:#d3d4d8;transform:scaleX(0.9605);">6,600.00</span>
<span class="t" style="left:1795.0px;top:427.2px;font-size:13.9px;color:#d3d4d8;transform:scaleX(0.9605);">6,560.00</span>
<span class="t" style="left:1795.0px;top:463.5px;font-size:13.9px;color:#d3d4d8;transform:scaleX(0.9605);">6,520.00</span>
<span class="t" style="left:1795.0px;top:499.8px;font-size:13.9px;color:#d3d4d8;transform:scaleX(0.9605);">6,480.00</span>
<span class="t" style="left:1795.0px;top:536.1px;font-size:13.9px;color:#d3d4d8;transform:scaleX(0.9605);">6,440.00</span>
<span class="t" style="left:1795.0px;top:572.4px;font-size:13.9px;color:#d3d4d8;transform:scaleX(0.9605);">6,400.00</span>
<span class="t" style="left:1795.0px;top:608.7px;font-size:13.9px;color:#d3d4d8;transform:scaleX(0.9605);">6,360.00</span>
<span class="t" style="left:1795.0px;top:645.0px;font-size:13.9px;color:#d3d4d8;transform:scaleX(0.9605);">6,320.00</span>
<span class="t" style="left:1795.0px;top:681.3px;font-size:13.9px;color:#d3d4d8;transform:scaleX(0.9605);">6,280.00</span>
<span class="t" style="left:1795.0px;top:717.6px;font-size:13.9px;color:#d3d4d8;transform:scaleX(0.9605);">6,240.00</span>
<span class="t" style="left:1795.0px;top:753.9px;font-size:13.9px;color:#d3d4d8;transform:scaleX(0.9605);">6,200.00</span>
<span class="t" style="left:64.61px;top:799.9px;font-size:13.9px;color:#d3d4d8;transform:scaleX(1.0094);">10</span>
<span class="t" style="left:126.61px;top:799.9px;font-size:13.9px;color:#d3d4d8;transform:scaleX(1.0094);">15</span>
<span class="t" style="left:188.61px;top:799.9px;font-size:13.9px;color:#d3d4d8;transform:scaleX(1.0094);">18</span>
<span class="t" style="left:252.55px;top:799.9px;font-size:13.9px;color:#d3d4d8;transform:scaleX(0.9451);">23</span>
<span class="t" style="left:314.55px;top:799.9px;font-size:13.9px;color:#d3d4d8;transform:scaleX(0.9451);">28</span>
<span class="t" style="left:392.6px;top:799.9px;font-size:13.9px;color:#d3d4d8;font-weight:700;transform:scaleX(0.8976);">Aug</span>
<span class="t" style="left:462.78px;top:799.9px;font-size:13.9px;color:#d3d4d8;transform:scaleX(0.93);">6</span>
<span class="t" style="left:521.53px;top:799.9px;font-size:13.9px;color:#d3d4d8;transform:scaleX(1.0854);">11</span>
<span class="t" style="left:583.61px;top:799.9px;font-size:13.9px;color:#d3d4d8;transform:scaleX(0.944);">14</span>
<span class="t" style="left:645.61px;top:799.9px;font-size:13.9px;color:#d3d4d8;transform:scaleX(1.0094);">19</span>
<span class="t" style="left:708.55px;top:799.9px;font-size:13.9px;color:#d3d4d8;transform:scaleX(0.9451);">22</span>
<span class="t" style="left:771.55px;top:799.9px;font-size:13.9px;color:#d3d4d8;transform:scaleX(0.9451);">27</span>
<span class="t" style="left:828.7px;top:799.9px;font-size:13.9px;color:#d3d4d8;font-weight:700;transform:scaleX(0.9444);">Sep</span>
<span class="t" style="left:898.78px;top:799.9px;font-size:13.9px;color:#d3d4d8;transform:scaleX(0.93);">5</span>
<span class="t" style="left:957.61px;top:799.9px;font-size:13.9px;color:#d3d4d8;transform:scaleX(1.0094);">10</span>
<span class="t" style="left:1019.61px;top:799.9px;font-size:13.9px;color:#d3d4d8;transform:scaleX(1.0094);">15</span>
<span class="t" style="left:1081.61px;top:799.9px;font-size:13.9px;color:#d3d4d8;transform:scaleX(1.0094);">18</span>
<span class="t" style="left:1144.55px;top:799.9px;font-size:13.9px;color:#d3d4d8;transform:scaleX(0.9451);">23</span>
<span class="t" style="left:1207.55px;top:799.9px;font-size:13.9px;color:#d3d4d8;transform:scaleX(0.9451);">26</span>
<span class="t" style="left:1265.4px;top:799.9px;font-size:13.9px;color:#d3d4d8;font-weight:700;transform:scaleX(0.9435);">Oct</span>
<span class="t" style="left:1334.78px;top:799.9px;font-size:13.9px;color:#d3d4d8;transform:scaleX(0.93);">6</span>
<span class="t" style="left:1397.78px;top:799.9px;font-size:13.9px;color:#d3d4d8;transform:scaleX(0.93);">9</span>
<span class="t" style="left:1455.61px;top:799.9px;font-size:13.9px;color:#d3d4d8;transform:scaleX(0.944);">14</span>
<span class="t" style="left:1517.61px;top:799.9px;font-size:13.9px;color:#d3d4d8;transform:scaleX(1.0094);">17</span>
<span class="t" style="left:1580.55px;top:799.9px;font-size:13.9px;color:#d3d4d8;transform:scaleX(0.9451);">22</span>
<span class="t" style="left:1643.55px;top:799.9px;font-size:13.9px;color:#d3d4d8;transform:scaleX(0.9451);">27</span>
<span class="t" style="left:1741.4px;top:799.9px;font-size:13.9px;color:#d3d4d8;font-weight:700;transform:scaleX(0.9126);">Nov</span>
</div>
</body></html>
